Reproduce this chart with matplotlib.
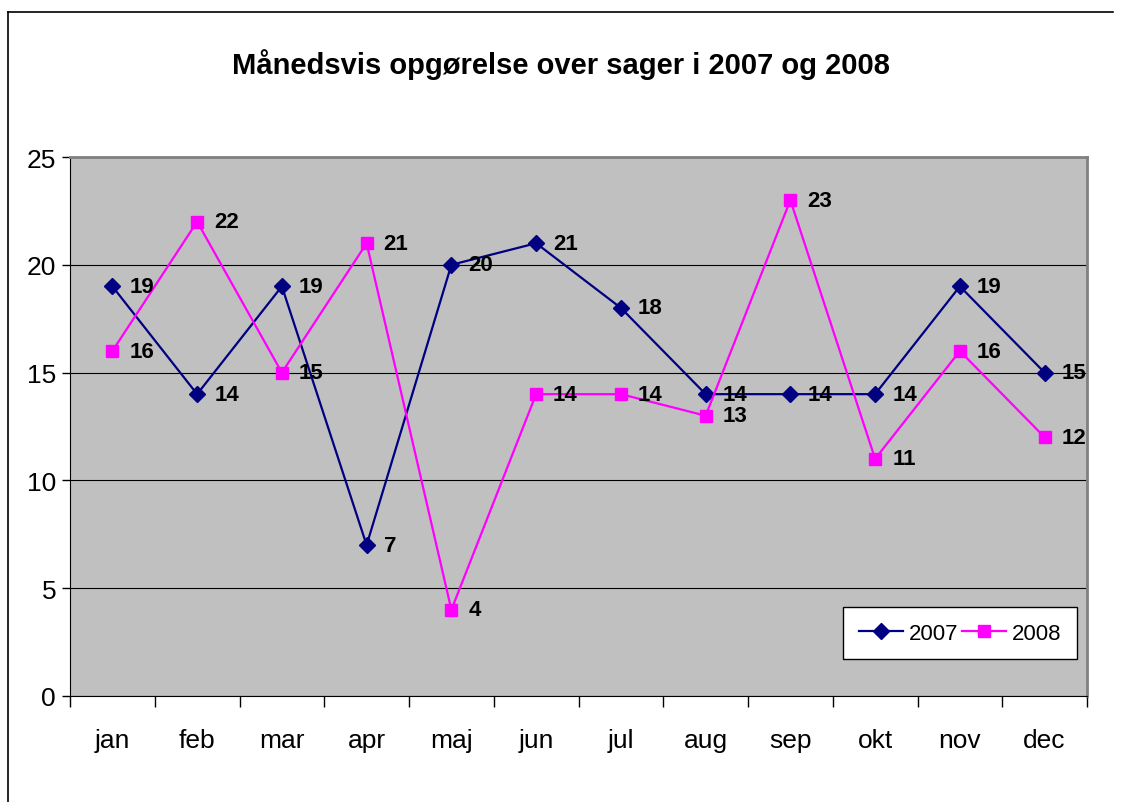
import numpy as np
import matplotlib.pyplot as plt
from matplotlib.lines import Line2D

plt.rcParams['font.family'] = ['Liberation Sans', 'DejaVu Sans']

# data
months = ['jan', 'feb', 'mar', 'apr', 'maj', 'jun', 'jul', 'aug', 'sep', 'okt', 'nov', 'dec']
sager_2007 = [19, 14, 19, 7, 20, 21, 18, 14, 14, 14, 19, 15]
sager_2008 = [16, 22, 15, 21, 4, 14, 14, 13, 23, 11, 16, 12]

fig = plt.figure(figsize=(11.22, 8.03), dpi=100)
ax = fig.add_axes([70/1122, 1-697/803, 1017/1122, 539/803])
ax.set_facecolor('#C0C0C0')

x = np.arange(len(months))
ax.plot(x, sager_2007, color='#000080', marker='D', markersize=8, lw=1.6, label='2007', zorder=3)
ax.plot(x, sager_2008, color='#FF00FF', marker='s', markersize=8, lw=1.6, label='2008', zorder=3)

for xi, v in zip(x, sager_2007):
    ax.annotate(str(v), (xi, v), xytext=(17, 0), textcoords='offset pixels',
                ha='left', va='center', fontsize=16, fontweight='bold', zorder=4)
for xi, v in zip(x, sager_2008):
    ax.annotate(str(v), (xi, v), xytext=(17, 0), textcoords='offset pixels',
                ha='left', va='center', fontsize=16, fontweight='bold', zorder=4)

ax.set_xlim(-0.5, 11.5)
ax.set_ylim(0, 25)
ax.set_yticks([0, 5, 10, 15, 20, 25])
ax.yaxis.grid(True, color='black', lw=0.8)
ax.set_axisbelow(True)

# category labels between boundary ticks
ax.set_xticks(np.arange(-0.5, 12, 1))
ax.set_xticklabels([])
ax.set_xticks(x, minor=True)
ax.set_xticklabels(months, minor=True)
ax.tick_params(axis='x', which='major', length=8, width=1, direction='out')
ax.tick_params(axis='x', which='minor', length=0, labelsize=19, pad=23)
ax.tick_params(axis='y', length=6, width=1, labelsize=19, pad=4)

ax.spines['top'].set_color('#808080')
ax.spines['right'].set_color('#808080')
ax.spines['top'].set_linewidth(2)
ax.spines['right'].set_linewidth(2)

leg = ax.legend(loc='lower right', bbox_to_anchor=(0.99, 0.068), ncol=2, fontsize=16,
                frameon=True, fancybox=False, edgecolor='black', facecolor='white',
                framealpha=1, handlelength=2.0, columnspacing=0.15, handletextpad=0.25,
                borderpad=0.7, borderaxespad=0)
leg.get_frame().set_linewidth(1)

fig.text(0.5, 1-65/803, 'Månedsvis opgørelse over sager i 2007 og 2008',
         ha='center', va='center', fontsize=21, fontweight='bold')

# chart area border
fig.add_artist(Line2D([8/1122, 8/1122], [0, 1-13/803], color='black', lw=1.2, transform=fig.transFigure))
fig.add_artist(Line2D([8/1122, 1113/1122], [1-13/803, 1-13/803], color='black', lw=1.2, transform=fig.transFigure))

fig.savefig('out.png', dpi=100)
